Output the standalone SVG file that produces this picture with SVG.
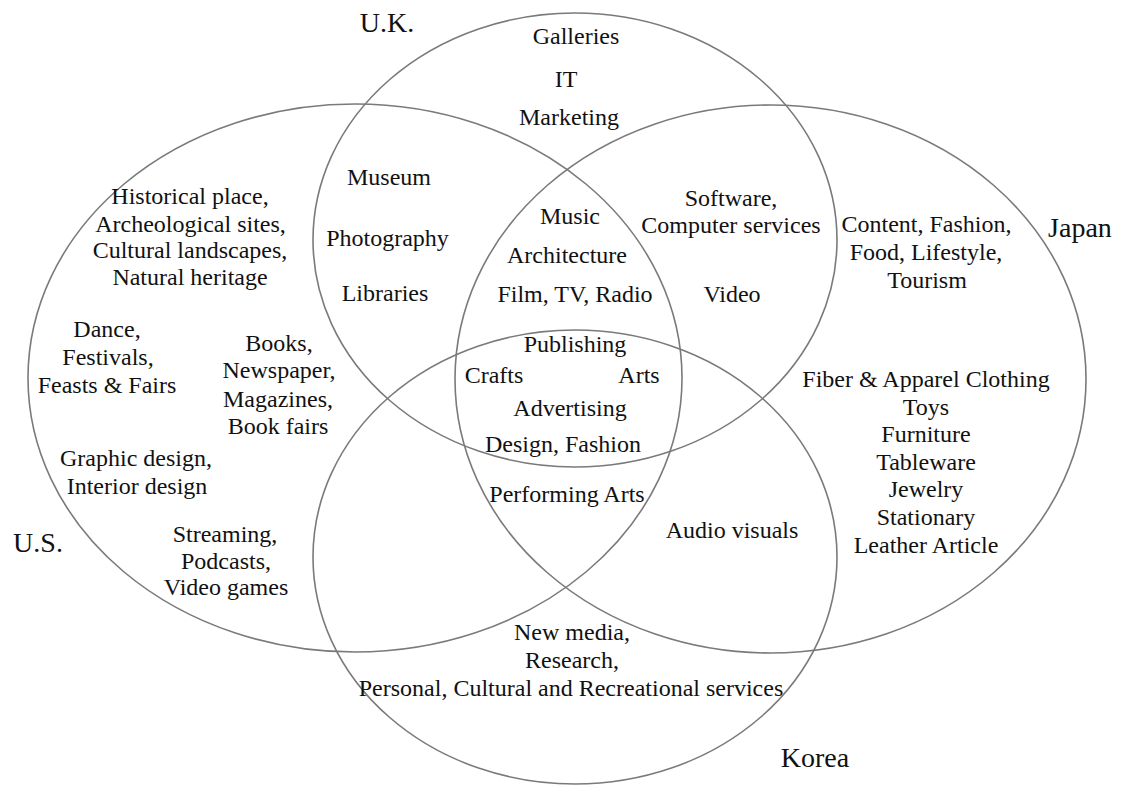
<svg xmlns="http://www.w3.org/2000/svg" width="1121" height="785" viewBox="0 0 1121 785">
<style>
.set{fill:none;stroke:#7a7a7a;stroke-width:1.6}
text{font-family:"Liberation Serif","Times New Roman",serif;fill:#111;text-anchor:middle}
.t{font-size:24px}
.lbl{font-size:28px}
</style>
<rect width="1121" height="785" fill="#ffffff"/>
<g id="sets">
<g id="set-uk"><ellipse class="set" cx="575" cy="240" rx="262" ry="227"/><text class="lbl" x="387" y="32">U.K.</text></g>
<g id="set-us"><ellipse class="set" cx="355" cy="378" rx="327" ry="274"/><text class="lbl" x="38" y="552">U.S.</text></g>
<g id="set-japan"><ellipse class="set" cx="770.5" cy="379" rx="315.5" ry="274"/><text class="lbl" x="1080" y="237">Japan</text></g>
<g id="set-korea"><ellipse class="set" cx="575" cy="557" rx="262" ry="227"/><text class="lbl" x="815" y="767">Korea</text></g>
</g>
<g id="connectors"></g>
<g id="region-uk" class="t">
<text x="576" y="44">Galleries</text>
<text x="566" y="87">IT</text>
<text x="569" y="125">Marketing</text>
</g>
<g id="region-uk-us" class="t">
<text x="389" y="185">Museum</text>
<text x="387.5" y="246">Photography</text>
<text x="385" y="301">Libraries</text>
</g>
<g id="region-uk-us-japan" class="t">
<text x="570" y="224">Music</text>
<text x="567" y="263">Architecture</text>
<text x="575" y="302">Film, TV, Radio</text>
</g>
<g id="region-uk-japan" class="t">
<text x="731" y="206">Software,</text>
<text x="731" y="233">Computer services</text>
<text x="732" y="302">Video</text>
</g>
<g id="region-japan" class="t">
<text x="926.5" y="232">Content, Fashion,</text>
<text x="926" y="260">Food, Lifestyle,</text>
<text x="927" y="288">Tourism</text>
<text x="926" y="387">Fiber &amp; Apparel Clothing</text>
<text x="926" y="415">Toys</text>
<text x="926" y="442">Furniture</text>
<text x="926" y="470">Tableware</text>
<text x="926" y="497">Jewelry</text>
<text x="926" y="525">Stationary</text>
<text x="926" y="553">Leather Article</text>
</g>
<g id="region-all" class="t">
<text x="575" y="352">Publishing</text>
<text x="494" y="383">Crafts</text>
<text x="639" y="383">Arts</text>
<text x="570" y="416">Advertising</text>
<text x="563" y="452">Design, Fashion</text>
</g>
<g id="region-us-japan-korea" class="t">
<text x="567" y="502">Performing Arts</text>
</g>
<g id="region-japan-korea" class="t">
<text x="732" y="538">Audio visuals</text>
</g>
<g id="region-korea" class="t">
<text x="572" y="640">New media,</text>
<text x="572" y="668">Research,</text>
<text x="571" y="696">Personal, Cultural and Recreational services</text>
</g>
<g id="region-us" class="t">
<text x="190" y="204">Historical place,</text>
<text x="190.5" y="232">Archeological sites,</text>
<text x="190" y="258">Cultural landscapes,</text>
<text x="190" y="285">Natural heritage</text>
<text x="107" y="337">Dance,</text>
<text x="108" y="365">Festivals,</text>
<text x="107" y="393">Feasts &amp; Fairs</text>
<text x="279" y="351">Books,</text>
<text x="279" y="378">Newspaper,</text>
<text x="278" y="407">Magazines,</text>
<text x="278" y="434">Book fairs</text>
<text x="136" y="466">Graphic design,</text>
<text x="137" y="494">Interior design</text>
<text x="225" y="542">Streaming,</text>
<text x="226" y="569">Podcasts,</text>
<text x="226" y="595">Video games</text>
</g>
</svg>
